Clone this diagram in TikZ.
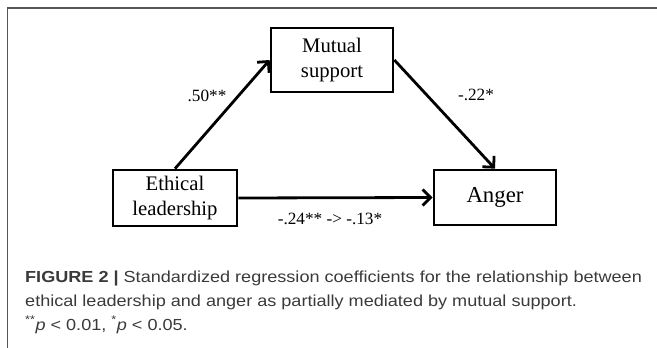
\documentclass[tikz,border=0pt]{standalone}
\usepackage{fontspec}
\setmainfont{Liberation Serif}
\newfontfamily\capfont[FakeStretch=1.13]{Liberation Sans}
\usetikzlibrary{arrows.meta}
\definecolor{framegray}{HTML}{555555}
\definecolor{captext}{HTML}{3A3A3A}
\begin{document}
\begin{tikzpicture}[x=1pt,y=-1pt,
  varbox/.style={draw=black,line width=2.7pt,inner sep=0pt,align=center,font=\fontsize{20.7}{25}\selectfont},
  path/.style={line width=2.8pt,-{Straight Barb[length=8pt,width=16pt]}},
  coef/.style={font=\fontsize{17.2}{20}\selectfont},
  capline/.style={anchor=base west,inner sep=0pt,text=captext,font=\capfont\fontsize{16}{18}\selectfont}]
\useasboundingbox (0,0) rectangle (657,348);
% frame
\draw[framegray,line width=1.3pt] (7.5,348) -- (7.5,8) -- (657,8);
% boxes
\node[varbox,minimum width=122pt,minimum height=64pt] (mut) at (332,60) {Mutual\\support};
\node[varbox,minimum width=124pt,minimum height=56pt] (eth) at (175,198) {Ethical\\leadership};
\node[varbox,minimum width=122pt,minimum height=55pt,font=\fontsize{22.8}{26}\selectfont] (ang) at (495,197.5) {Anger};
% paths
\draw[path] (eth.north) -- (mut.west);
\draw[path] (mut.east) -- (ang.north);
\draw[path] (eth.east) -- (ang.west);
% coefficients
\node[coef] (a) at (207,96) {.50**};
\node[coef] (b) at (476,95) {-.22*};
\node[coef] (c) at (330,219) {-.24** -> -.13*};
% caption
\node[capline] (cap1) at (25,282) {\textbf{FIGURE 2 |} Standardized regression coefficients for the relationship between};
\node[capline] (cap2) at (25,306) {ethical leadership and anger as partially mediated by mutual support.};
\node[capline] (cap3) at (25,330) {\textsuperscript{**}\textit{p} {\textless} 0.01, \textsuperscript{*}\textit{p} {\textless} 0.05.};
\end{tikzpicture}
\end{document}
